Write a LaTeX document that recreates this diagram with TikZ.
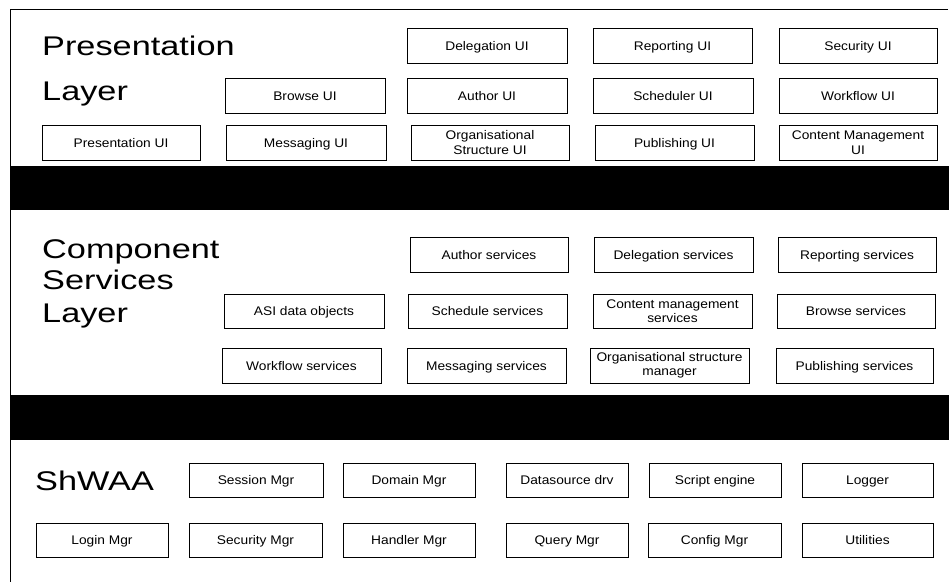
\documentclass[tikz,border=0pt]{standalone}
\usepackage{fontspec}
\setmainfont{Liberation Sans}
\usepackage{graphicx}
\newcommand{\hsx}[1]{\scalebox{1.1}[1]{#1}}
\newcommand{\htx}[1]{\scalebox{1.27}[1]{#1}}
\tikzset{
  ubox/.style={draw=black, line width=0.9pt, rectangle, inner sep=0pt, align=center,
    minimum height=35pt, font=\fontsize{12.5}{14.5}\selectfont},
  one/.style={ubox, text height=11pt, text depth=2pt},
  title/.style={anchor=base west, inner sep=0pt, font=\fontsize{27}{30}\selectfont},
  band/.style={fill=black, draw=none},
  frame/.style={draw=black, line width=1pt}
}
\begin{document}
\begin{tikzpicture}[x=1pt,y=-1pt]
\useasboundingbox (0,0) rectangle (949,582);
% frame
\coordinate (tl) at (10,9);
\coordinate (tr) at (948,9);
\coordinate (bl) at (10,582);
\draw[frame] (tr) -- (tl) -- (bl);
% bands
\fill[band] (10,166) rectangle (949,210);
\fill[band] (10,395) rectangle (949,440);

% Presentation layer
\node[title] (pt1) at (42,55) {\htx{Presentation}};
\node[title] (pt2) at (42,100) {\htx{Layer}};
\node[one, minimum width=160pt] (delui) at (487,45.5) {\hsx{Delegation UI}};
\node[one, minimum width=159pt] (repui) at (672.5,45.5) {\hsx{Reporting UI}};
\node[one, minimum width=158pt] (secui) at (858,45.5) {\hsx{Security UI}};
\node[one, minimum width=160pt] (brui) at (305,95.5) {\hsx{Browse UI}};
\node[one, minimum width=160pt] (auui) at (487,95.5) {\hsx{Author UI}};
\node[one, minimum width=160pt] (scui) at (673,95.5) {\hsx{Scheduler UI}};
\node[one, minimum width=158pt] (wfui) at (858,95.5) {\hsx{Workflow UI}};
\node[one, minimum width=158pt] (prui) at (121,142.5) {\hsx{Presentation UI}};
\node[one, minimum width=160pt] (msui) at (306,142.5) {\hsx{Messaging UI}};
\node[ubox, minimum width=158pt] (orui) at (490,142.5) {\hsx{Organisational}\\\hsx{Structure UI}};
\node[one, minimum width=159pt] (puui) at (674.5,142.5) {\hsx{Publishing UI}};
\node[ubox, minimum width=158pt] (cmui) at (858,142.5) {\hsx{Content Management}\\\hsx{UI}};

% Component services layer
\node[title] (ct1) at (42,258) {\htx{Component}};
\node[title] (ct2) at (42,289) {\htx{Services}};
\node[title] (ct3) at (42,322) {\htx{Layer}};
\node[one, minimum width=158pt] (ausv) at (489,254.5) {\hsx{Author services}};
\node[one, minimum width=159pt] (desv) at (673.5,254.5) {\hsx{Delegation services}};
\node[one, minimum width=158pt] (resv) at (857,254.5) {\hsx{Reporting services}};
\node[one, minimum width=160pt, minimum height=34pt] (asi) at (304,311) {\hsx{ASI data objects}};
\node[one, minimum width=159pt, minimum height=34pt] (scsv) at (487.5,311) {\hsx{Schedule services}};
\node[ubox, minimum width=159pt, minimum height=34pt] (cmsv) at (672.5,311) {\hsx{Content management}\\\hsx{services}};
\node[one, minimum width=158pt, minimum height=34pt] (brsv) at (856,311) {\hsx{Browse services}};
\node[one, minimum width=159pt] (wfsv) at (301.5,365.5) {\hsx{Workflow services}};
\node[one, minimum width=159pt] (mssv) at (486.5,365.5) {\hsx{Messaging services}};
\node[ubox, minimum width=159pt] (orsv) at (669.5,365.5) {\hsx{Organisational structure}\\\hsx{manager}};
\node[one, minimum width=157pt] (pusv) at (854.5,365.5) {\hsx{Publishing services}};

% ShWAA
\node[title] (st1) at (35,490) {\htx{ShWAA}};
\node[one, minimum width=134pt, minimum height=34pt] (sess) at (256,480) {\hsx{Session Mgr}};
\node[one, minimum width=132pt, minimum height=34pt] (dom) at (409,480) {\hsx{Domain Mgr}};
\node[one, minimum width=122pt, minimum height=34pt] (dsrc) at (567,480) {\hsx{Datasource drv}};
\node[one, minimum width=132pt, minimum height=34pt] (scr) at (715,480) {\hsx{Script engine}};
\node[one, minimum width=131pt, minimum height=34pt] (log) at (867.5,480) {\hsx{Logger}};
\node[one, minimum width=132pt, minimum height=34pt] (lgn) at (102,540) {\hsx{Login Mgr}};
\node[one, minimum width=133pt, minimum height=34pt] (secm) at (255.5,540) {\hsx{Security Mgr}};
\node[one, minimum width=132pt, minimum height=34pt] (hnd) at (409,540) {\hsx{Handler Mgr}};
\node[one, minimum width=122pt, minimum height=34pt] (qry) at (567,540) {\hsx{Query Mgr}};
\node[one, minimum width=133pt, minimum height=34pt] (cfg) at (714.5,540) {\hsx{Config Mgr}};
\node[one, minimum width=131pt, minimum height=34pt] (utl) at (867.5,540) {\hsx{Utilities}};
\end{tikzpicture}
\end{document}
